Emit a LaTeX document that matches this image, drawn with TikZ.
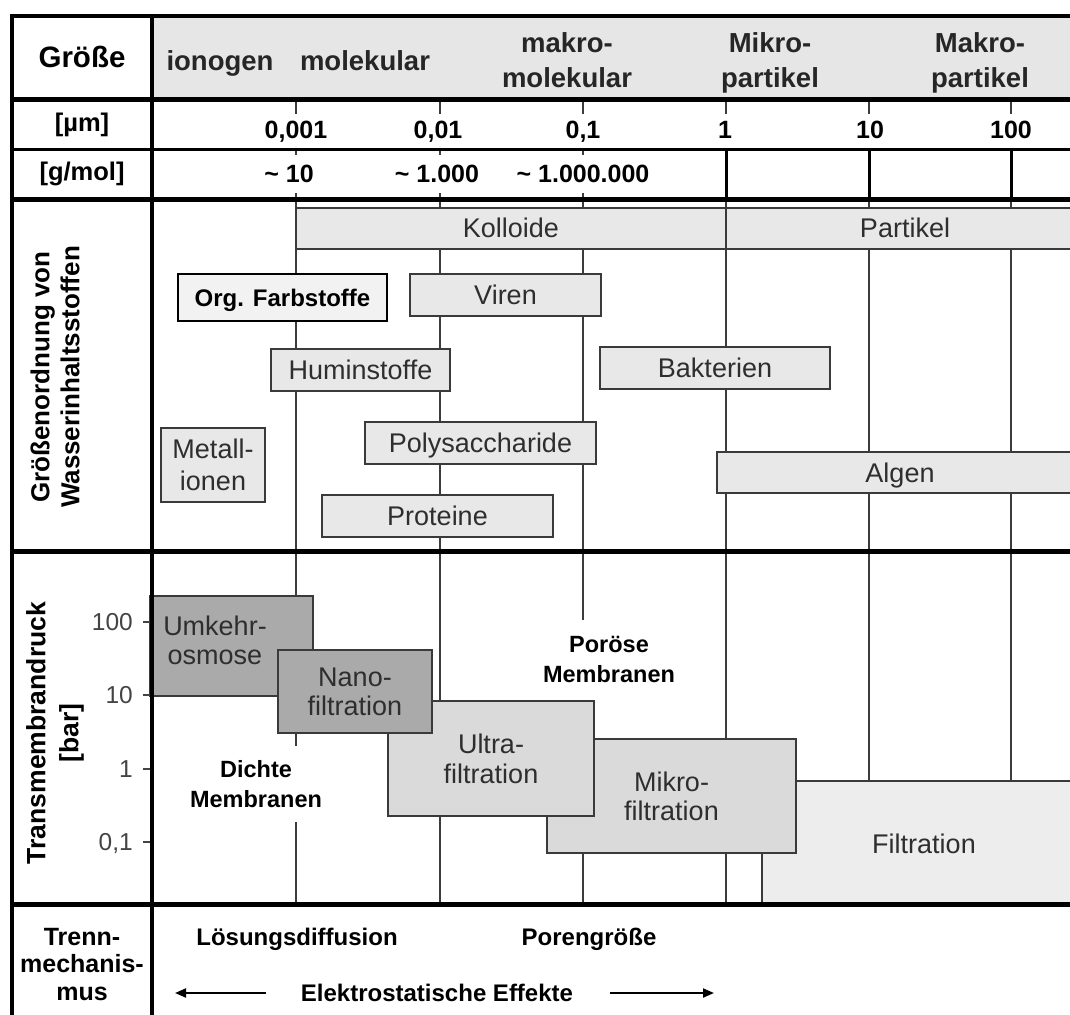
\documentclass[tikz,border=0pt]{standalone}
\usepackage{fontspec}
\setmainfont{Liberation Sans}
\usetikzlibrary{arrows.meta}
\definecolor{gridc}{HTML}{3C3C3C}
\definecolor{boxb}{HTML}{3A3A3A}
\definecolor{boxf}{HTML}{E8E8E8}
\definecolor{hdrf}{HTML}{E6E6E6}
\definecolor{hdrt}{HTML}{262626}
\definecolor{txt}{HTML}{2E2E2E}
\definecolor{axt}{HTML}{444444}
\definecolor{darkf}{HTML}{AAAAAA}
\definecolor{midf}{HTML}{DADADA}
\definecolor{lightf}{HTML}{EDEDED}
\definecolor{farbf}{HTML}{F2F2F2}
\begin{document}
\begin{tikzpicture}[x=1pt,y=-1pt,
  gridline/.style={draw=gridc, line width=2pt},
  frameline/.style={draw=black, line width=#1},
  frameline/.default=4.5pt,
  sbox/.style={draw=boxb, line width=2pt, fill=boxf, text=txt, inner sep=0pt, align=center, font=\fontsize{27}{32}\selectfont, text depth=0pt},
  mbox/.style={draw=boxb, line width=2pt, text=txt, inner sep=0pt, align=center, font=\fontsize{27}{29.5}\selectfont, text depth=0pt},
  hdr/.style={text=hdrt, font=\bfseries\fontsize{27.5}{35}\selectfont, align=center, inner sep=0pt},
  lab/.style={text=black, font=\bfseries\fontsize{26}{30}\selectfont, align=center, inner sep=0pt},
  num/.style={fill=white, text=black, font=\bfseries\fontsize{25}{30}\selectfont, inner xsep=2pt, anchor=base},
  ax/.style={text=axt, font=\fontsize{24.5}{30}\selectfont, anchor=base east, inner sep=0pt},
  bnote/.style={fill=white, text=black, font=\bfseries\fontsize{23.5}{29.5}\selectfont, align=center, inner xsep=3pt},
  mech/.style={text=black, font=\bfseries\fontsize{24}{27.5}\selectfont, anchor=base, inner sep=0pt},
  arr/.style={-{Triangle[length=11pt,width=9pt]}, line width=2pt, draw=black},
  tick/.style={draw=axt, line width=2pt},
]
\useasboundingbox (0,0) rectangle (1070,1014);
\clip (0,0) rectangle (1070,1014);
\fill[white] (0,0) rectangle (1070,1014);

% header band
\fill[hdrf] (152,16) rectangle (1080,99);

% grid lines
\foreach \gx in {296,440,583,726,869,1011}{
  \draw[gridline] (\gx,99) -- (\gx,904);
}
\foreach \gx in {726,869,1011}{
  \draw[draw=black, line width=3pt] (\gx,149) -- (\gx,199);
}

% header texts
\node[lab, anchor=base, font=\bfseries\fontsize{29.5}{30}\selectfont] (groesse) at (82,68) {Größe};
\node[lab, anchor=base, font=\bfseries\fontsize{25.5}{30}\selectfont] (um) at (82,131.5) {[µm]};
\node[lab, anchor=base, font=\bfseries\fontsize{25.5}{30}\selectfont] (gmol) at (82,180) {[g/mol]};
\node[hdr, anchor=base] (iono) at (220,71) {ionogen};
\node[hdr, anchor=base] (mole) at (365,71) {molekular};
\node[hdr] (makmol) at (567,60) {makro-\\molekular};
\node[hdr] (mikpar) at (770,62.5) {Mikro-\\partikel};
\node[hdr] (makpar) at (980,62.5) {Makro-\\partikel};

% scale labels
\node[num, text height=18pt, text depth=3pt, inner ysep=7pt] (u1) at (296,139) {0,001};
\node[num, text height=18pt, text depth=3pt, inner ysep=7pt] (u2) at (438,139) {0,01};
\node[num, text height=18pt, text depth=3pt, inner ysep=7pt] (u3) at (583,139) {0,1};
\node[num, text height=18pt, text depth=3pt, inner ysep=7pt] (u4) at (725,139) {1};
\node[num, text height=18pt, text depth=3pt, inner ysep=7pt] (u5) at (870,139) {10};
\node[num, text height=18pt, text depth=3pt, inner ysep=7pt] (u6) at (1011,139) {100};
\node[num, text height=18pt, text depth=2pt, inner ysep=9pt] (g1) at (289,182) {\textasciitilde{} 10};
\node[num, text height=18pt, text depth=2pt, inner ysep=9pt] (g2) at (437,182) {\textasciitilde{} 1.000};
\node[num, text height=18pt, text depth=2pt, inner ysep=9pt] (g3) at (583,182) {\textasciitilde{} 1.000.000};

% section 2: water constituents
\node[sbox, minimum width=430pt, minimum height=41pt] (kolloide) at (511,228) {Kolloide};
\node[sbox, minimum width=358pt, minimum height=41pt] (partikel) at (905,228) {Partikel};
\node[sbox, draw=black, line width=2.5pt, fill=farbf, text=black, font=\bfseries\fontsize{24}{30}\selectfont, minimum width=209pt, minimum height=47pt] (farb) at (282.5,297.5) {Org. Farbstoffe};
\node[sbox, minimum width=191pt, minimum height=42pt] (viren) at (505.5,295) {Viren};
\node[sbox, minimum width=179pt, minimum height=42pt] (humin) at (360.5,370) {Huminstoffe};
\node[sbox, minimum width=230pt, minimum height=42pt] (bakt) at (715,368) {Bakterien};
\node[sbox, minimum width=231pt, minimum height=42pt] (poly) at (480.5,443) {Polysaccharide};
\node[sbox, minimum width=104pt, minimum height=74pt] (metall) at (213,465) {Metall-\\ionen};
\node[sbox, minimum width=231pt, minimum height=42pt] (prot) at (437.5,516) {Proteine};
\node[sbox, minimum width=366pt, minimum height=41pt] (algen) at (900,472.5) {Algen};

% section 3: membrane processes
\node[mbox, fill=lightf, minimum width=324pt, minimum height=125pt] (filt) at (924,843.5) {Filtration};
\node[mbox, fill=midf, minimum width=249pt, minimum height=114pt] (mikro) at (671.5,796) {Mikro-\\filtration};
\node[mbox, fill=midf, minimum width=206pt, minimum height=115pt] (ultra) at (491,758.5) {Ultra-\\filtration};
\node[mbox, fill=darkf, minimum width=163pt, minimum height=100pt] (umk) at (231.5,646) {};
\node[mbox, draw=none, fill=none] (umktext) at (215,640) {Umkehr-\\osmose};
\node[mbox, fill=darkf, minimum width=154pt, minimum height=83pt] (nano) at (355,691.5) {Nano-\\filtration};

\node[bnote, inner ysep=15pt] (dichte) at (256,784) {Dichte\\Membranen};
\node[bnote, inner ysep=17pt] (poroese) at (609,659.5) {Poröse\\Membranen};

% pressure axis
\foreach \py/\pl/\pn in {622/100/a, 695/10/b, 769/1/c, 842/{0,1}/d}{
  \draw[tick] (143,\py) -- (152,\py);
  \node[ax] (ax\pn) at (133,\py+8.8) {\pl};
}

% left column labels
\node[lab, rotate=90] (groessen) at (55,377) {Größenordnung von\\Wasserinhaltsstoffen};
\node[lab, rotate=90, font=\bfseries\fontsize{26.5}{33}\selectfont] (tmd) at (55,733) {Transmembrandruck\\{[bar]}};
\node[lab, font=\bfseries\fontsize{25}{27.5}\selectfont] (trenn) at (82,964.5) {Trenn-\\mechanis-\\mus};

% separation mechanism
\node[mech] (loes) at (297,945.5) {Lösungsdiffusion};
\node[mech] (poren) at (589,945.5) {Porengröße};
\node[mech] (elek) at (437,1001.5) {Elektrostatische Effekte};
\coordinate (arrL) at (175,993);
\coordinate (arrR) at (714,993);
\draw[arr, shorten <=35pt] (elek.west |- arrL) -- (arrL);
\draw[arr, shorten <=37pt] (elek.east |- arrR) -- (arrR);

% frame
\draw[frameline] (10,16) -- (1080,16);
\draw[frameline] (12,14) -- (12,1020);
\draw[frameline=4pt] (152,14) -- (152,1020);
\draw[frameline=5pt] (10,99.5) -- (1080,99.5);
\draw[frameline=3pt] (10,149) -- (1080,149);
\draw[frameline=5pt] (10,199.5) -- (1080,199.5);
\draw[frameline=5pt] (10,551) -- (1080,551);
\draw[frameline=5pt] (10,904.5) -- (1080,904.5);
\end{tikzpicture}
\end{document}
